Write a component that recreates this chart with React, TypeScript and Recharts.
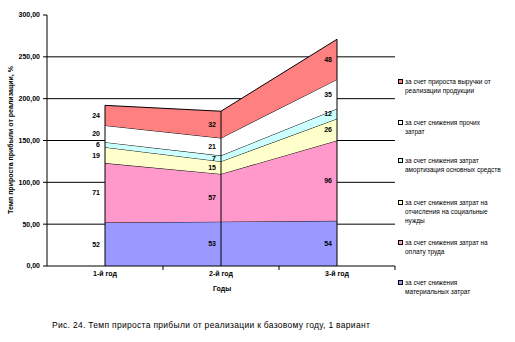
import React from 'react';
import { ComposedChart, Area, Line, XAxis, YAxis, CartesianGrid, ReferenceLine, LabelList } from 'recharts';

const years = ['1-й год', '2-й год', '3-й год'];
const material = [52, 53, 54];
const labor = [71, 57, 96];
const social = [19, 15, 26];
const amort = [6, 7, 12];
const other = [20, 21, 35];
const revenue = [24, 32, 48];
const yTicks = [0, 50, 100, 150, 200, 250, 300];
const gridValues = [50, 100, 150, 200, 250];

const series = [
    { key: 'material', values: material, color: '#9999FF', legend: ['за счет снижения', 'материальных затрат'] },
    { key: 'labor', values: labor, color: '#FF99CC', legend: ['за счет снижения затрат на', 'оплату труда'] },
    { key: 'social', values: social, color: '#FFFFCC', legend: ['за счет снижения затрат на', 'отчисления на социальные', 'нужды'] },
    { key: 'amort', values: amort, color: '#CCFFFF', legend: ['за счет снижения затрат', 'амортизация основных средств'] },
    { key: 'other', values: other, color: '#FFFFFF', legend: ['за счет снижения прочих', 'затрат'] },
    { key: 'revenue', values: revenue, color: '#FF8080', legend: ['за счет прироста выручки от', 'реализации продукции'] },
];

// rows for the chart: raw values plus the middle of each band (for labels)
const data = years.map((year, i) => {
    const row: any = { year };
    let base = 0;
    series.forEach(s => {
        row[s.key] = s.values[i];
        row[s.key + 'Mid'] = base + s.values[i] / 2;
        base += s.values[i];
    });
    row.total = base;
    return row;
});

const legendTops = [77, 118, 156, 198, 238, 278];
const font = 'Arial, "Liberation Sans", sans-serif';

const XTick = ({ x, y, payload }: any) => (
    <g>
        <line x1={x + 58} y1={y - 2} x2={x + 58} y2={y + 2} stroke="#000" />
        <text x={x} y={y + 8} textAnchor="middle" fontSize={7} fontWeight="bold" fill="#000" fontFamily={font}>{payload.value}</text>
    </g>
);

export default function App() {
    const legendItems = [...series].reverse();
    return (
        <div style={{ position: 'absolute', left: 0, top: 0, width: 515, height: 342, background: '#fff', fontFamily: font }}>
            <ComposedChart width={515} height={342} data={data} margin={{ top: 15, right: 120, bottom: 56, left: 7 }}>
                <CartesianGrid vertical={false} horizontalValues={gridValues} stroke="#000" strokeWidth={1} />
                <XAxis dataKey="year" scale="point" padding={{ left: 58, right: 58 }} height={20}
                    tickLine={false} tickSize={0} tickMargin={2} stroke="#000" tick={<XTick />} interval={0} />
                <YAxis domain={[0, 300]} ticks={yTicks} width={40} tickSize={4} tickMargin={3} stroke="#000"
                    tick={{ fontSize: 7, fontWeight: 'bold', fill: '#000', fontFamily: font }}
                    tickFormatter={(v: number) => v.toFixed(2).replace('.', ',')} />
                {series.map(s => (
                    <Area key={s.key} type="linear" dataKey={s.key} stackId="1" stroke="#000" strokeWidth={1}
                        fill={s.color} fillOpacity={1} isAnimationActive={false} />
                ))}
                {data.map(d => (
                    <ReferenceLine key={'d' + d.year} stroke="#000" strokeWidth={1}
                        segment={[{ x: d.year, y: 0 }, { x: d.year, y: d.total }]} />
                ))}
                {series.map(s => (
                    <Line key={s.key + 'Mid'} dataKey={s.key + 'Mid'} stroke="none" dot={false} activeDot={false}
                        isAnimationActive={false} legendType="none">
                        <LabelList dataKey={s.key} position="left" offset={5} fontSize={7} fontWeight="bold" fill="#000" fontFamily={font} />
                    </Line>
                ))}
            </ComposedChart>

            {/* y axis title */}
            <div style={{ position: 'absolute', left: 10, top: 140, transform: 'translate(-50%, -50%) rotate(-90deg)', whiteSpace: 'nowrap', fontSize: 7, fontWeight: 'bold' }}>
                Темп прироста прибыли от реализации, %
            </div>

            {/* x axis title */}
            <div style={{ position: 'absolute', left: 222, top: 288, transform: 'translate(-50%, -50%)', fontSize: 7, fontWeight: 'bold' }}>
                Годы
            </div>

            {/* legend */}
            {legendItems.map((s, i) => (
                <div key={s.key} style={{ position: 'absolute', left: 398, top: legendTops[i], fontSize: 6.5, lineHeight: '9px', whiteSpace: 'nowrap' }}>
                    {s.legend.map((line, j) => (
                        <div key={j} style={{ display: 'flex', alignItems: 'center' }}>
                            <span style={{ display: 'inline-block', width: 5, height: 5, marginRight: 2, background: j === 0 ? s.color : 'transparent', border: j === 0 ? '1px solid #000' : '1px solid transparent', boxSizing: 'border-box' }} />
                            <span>{line}</span>
                        </div>
                    ))}
                </div>
            ))}

            {/* caption */}
            <div style={{ position: 'absolute', left: 52, top: 325, transform: 'translateY(-50%)', fontSize: 8.5, whiteSpace: 'nowrap', letterSpacing: 0.3 }}>
                Рис. 24. Темп прироста прибыли от реализации к базовому году, 1 вариант
            </div>
        </div>
    );
}
